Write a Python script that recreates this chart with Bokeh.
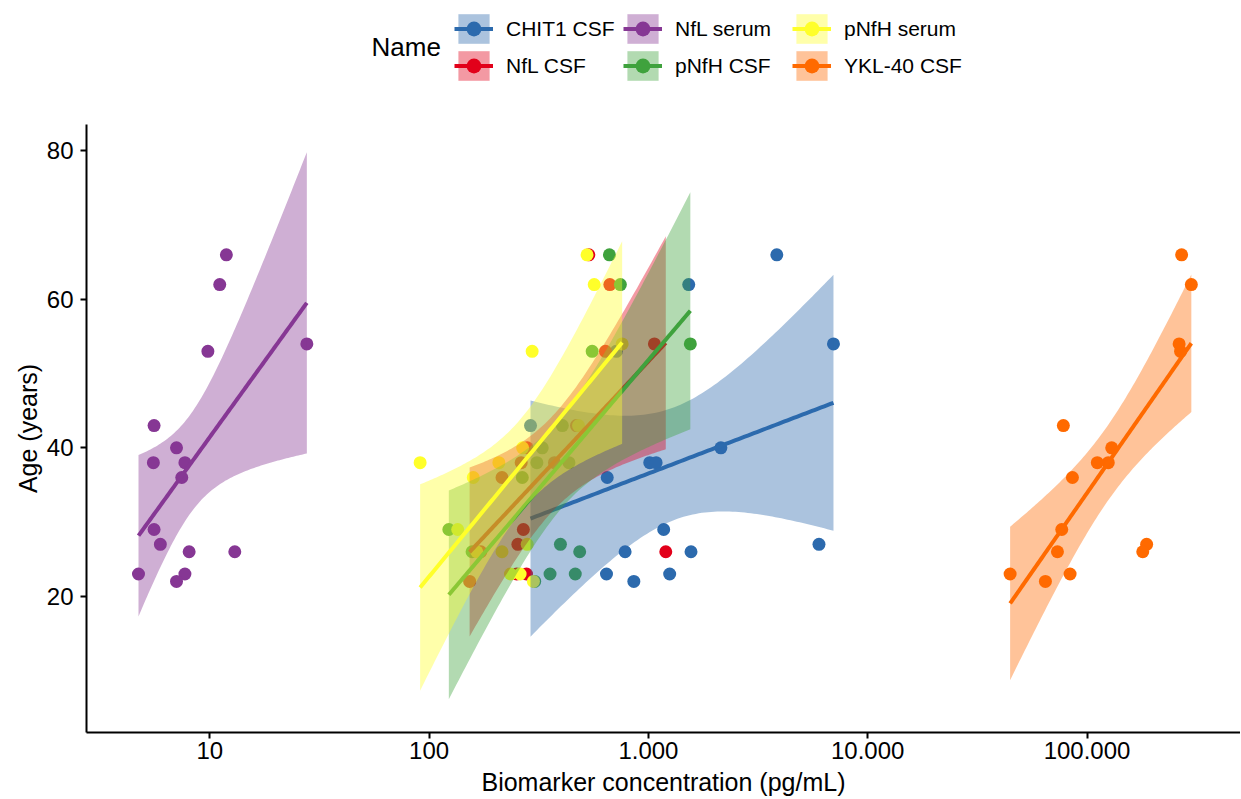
import numpy as np
from bokeh.plotting import figure
from bokeh.layouts import column
from bokeh.models import Range1d, FixedTicker, Legend, LegendItem, Label
from bokeh.embed import file_html
from bokeh.resources import INLINE

FONT = "Liberation Sans"

# ---------------- data ----------------
series_names = ["CHIT1 CSF", "NfL CSF", "NfL serum", "pNfH CSF", "pNfH serum", "YKL-40 CSF"]
series_colors = ["#2C6AAD", "#E2001A", "#863794", "#3FA23D", "#FFFF2A", "#FF6A00"]

age_chit1 = [66, 62, 54, 53, 43, 40, 38, 38, 36, 29, 27, 26, 26, 23, 23, 22]
conc_chit1 = [3850, 1527, 6980, 714, 290, 2140, 1014, 1084, 649, 1174, 5995, 783, 1564, 644, 1250, 858]

age_nfl_csf = [66, 62, 54, 53, 43, 40, 38, 38, 36, 29, 27, 26, 26, 23, 23, 22]
conc_nfl_csf = [535, 667, 1065, 637, 470, 280, 263, 373, 215, 269, 254, 172, 1200, 251, 278, 153]

age_nfl_serum = [66, 62, 53, 54, 43, 40, 38, 38, 36, 29, 27, 26, 26, 23, 23, 22]
conc_nfl_serum = [11.9, 11.1, 9.8, 27.7, 5.57, 7.05, 5.53, 7.7, 7.45, 5.57, 5.95, 8.05, 13.0, 4.73, 7.7, 7.05]

age_pnfh_csf = [66, 62, 54, 53, 43, 40, 38, 38, 36, 29, 27, 26, 26, 23, 23, 22]
conc_pnfh_csf = [664, 745, 1553, 554, 405, 328, 434, 310, 266, 123, 397, 157, 486, 356, 464, 303]

age_pnfh_serum = [66, 62, 54, 53, 43, 40, 38, 38, 36, 29, 27, 26, 26, 23, 23, 22]
conc_pnfh_serum = [525, 566, 759, 295, 480, 267, 91, 208, 159, 135, 280, 215, 165, 235, 260, 299]

age_ykl40 = [66, 62, 54, 53, 43, 40, 38, 38, 36, 29, 27, 26, 26, 23, 23, 22]
conc_ykl40 = [270000, 299000, 263000, 267000, 78000, 129600, 111400, 125000, 85800, 76700, 187000, 73300, 179500, 44600, 83700, 64600]

x_ticks = [10, 100, 1000, 10000, 100000]
x_tick_labels = ["10", "100", "1.000", "10.000", "100.000"]
y_ticks = [20, 40, 60, 80]

all_conc = [conc_chit1, conc_nfl_csf, conc_nfl_serum, conc_pnfh_csf, conc_pnfh_serum, conc_ykl40]
all_age = [age_chit1, age_nfl_csf, age_nfl_serum, age_pnfh_csf, age_pnfh_serum, age_ykl40]

T975_DF14 = 2.144787  # Student t 0.975 quantile, 14 df (n = 16)


def lm_band(conc, age, n=100):
    lx = np.log10(np.asarray(conc, float))
    y = np.asarray(age, float)
    nobs = len(lx)
    xm = lx.mean()
    sxx = ((lx - xm) ** 2).sum()
    b = ((lx - xm) * (y - y.mean())).sum() / sxx
    a = y.mean() - b * xm
    resid = y - (a + b * lx)
    s = np.sqrt((resid ** 2).sum() / (nobs - 2))
    grid = np.linspace(lx.min(), lx.max(), n)
    fit = a + b * grid
    se = s * np.sqrt(1.0 / nobs + (grid - xm) ** 2 / sxx)
    return 10 ** grid, fit, fit - T975_DF14 * se, fit + T975_DF14 * se


# ---------------- legend strip (separate figure on top) ----------------
leg_fig = figure(width=1240, height=116, x_range=Range1d(0, 1), y_range=Range1d(0, 1),
                 output_backend="svg", toolbar_location=None,
                 x_axis_location=None, y_axis_location=None,
                 min_border_left=0, min_border_right=0, min_border_top=0, min_border_bottom=0)
leg_fig.xgrid.visible = False
leg_fig.ygrid.visible = False
leg_fig.outline_line_color = None

leg_items = []
for name, col in zip(series_names, series_colors):
    ra = leg_fig.varea(x=[5, 6], y1=[5, 5], y2=[6, 6], fill_color=col, fill_alpha=0.4)
    rl = leg_fig.line([5, 6], [5, 6], line_color=col, line_width=4)
    rp = leg_fig.scatter([5], [5], size=13, fill_color=col, line_color=None)
    leg_items.append(LegendItem(label=name, renderers=[ra, rl, rp]))

legend = Legend(items=leg_items, location=(368, 32), orientation="vertical", nrows=2,
                glyph_width=39, glyph_height=37, label_standoff=13, label_width=117,
                spacing=0, padding=0, margin=0, border_line_color=None,
                background_fill_alpha=0, label_text_font=FONT, label_text_font_size="21px",
                label_text_color="black")
leg_fig.add_layout(legend, "center")
leg_fig.add_layout(Label(x=285, y=70, x_units="screen", y_units="screen", text="Name",
                         text_font=FONT, text_font_size="26px", text_baseline="middle",
                         text_color="black"))

# ---------------- main plot ----------------
p = figure(width=1240, height=682, x_axis_type="log",
           x_range=Range1d(2.74, 501000), y_range=Range1d(1.65, 83.56),
           output_backend="svg", toolbar_location=None,
           min_border_left=86, min_border_right=0, min_border_top=8, min_border_bottom=0)
p.xgrid.visible = False
p.ygrid.visible = False
p.outline_line_color = None
p.background_fill_color = "white"

# points first (under the smooths, as in the reference)
for conc, age, col in zip(all_conc, all_age, series_colors):
    p.scatter(conc, age, size=13, fill_color=col, line_color=None, marker="circle")

# linear-model smooths with 95% confidence band, per group (ribbon then line)
for conc, age, col in zip(all_conc, all_age, series_colors):
    gx, fit, lo, hi = lm_band(conc, age)
    p.varea(x=gx, y1=lo, y2=hi, fill_color=col, fill_alpha=0.4)
    p.line(gx, fit, line_color=col, line_width=4)

for ax in (p.xaxis[0], p.yaxis[0]):
    ax.axis_line_width = 2
    ax.axis_line_color = "black"
    ax.major_tick_line_width = 2
    ax.major_tick_line_color = "black"
    ax.major_tick_out = 6
    ax.major_tick_in = 0
    ax.minor_tick_line_color = None
    ax.major_label_text_font = FONT
    ax.major_label_text_font_size = "24px"
    ax.major_label_text_color = "black"
    ax.axis_label_text_font = FONT
    ax.axis_label_text_font_size = "25px"
    ax.axis_label_text_font_style = "normal"
    ax.axis_label_text_color = "black"

p.xaxis[0].ticker = FixedTicker(ticks=x_ticks, minor_ticks=[])
p.xaxis[0].major_label_overrides = {t: lab for t, lab in zip(x_ticks, x_tick_labels)}
p.xaxis[0].axis_label = "Biomarker concentration (pg/mL)"
p.xaxis[0].major_label_standoff = 3
p.xaxis[0].axis_label_standoff = 6
p.yaxis[0].ticker = FixedTicker(ticks=y_ticks, minor_ticks=[])
p.yaxis[0].axis_label = "Age (years)"
p.yaxis[0].major_label_standoff = 7
p.yaxis[0].axis_label_standoff = 2

layout = column(leg_fig, p, spacing=0)
open("out.html", "w").write(file_html(layout, INLINE))
